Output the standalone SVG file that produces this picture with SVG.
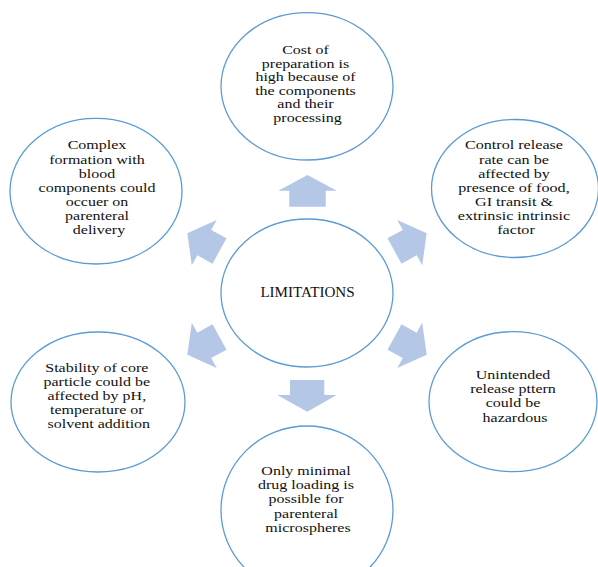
<svg xmlns="http://www.w3.org/2000/svg" xmlns:xlink="http://www.w3.org/1999/xlink" width="598" height="567" viewBox="0 0 598 567">
  <style>
    .node { fill: #ffffff; stroke: #5b9bd5; stroke-width: 1.3; }
    .arrow { fill: #b4c7e7; stroke: none; }
    .t { font-family: "Liberation Serif", "Times New Roman", serif; font-size: 12.7px; fill: #111111; text-anchor: middle; }
    .tight { font-size: 12.2px; }
  </style>
  <defs>
    <!-- block arrow pointing to the upper-left; the other diagonals are mirrors of it -->
    <path id="diag" d="M187.3,233.3 L216.7,220 L211.2,229.9 L226.5,238.3 L212.5,263.7 L197.3,255.3 L191.8,265.2 Z"/>
  </defs>
  <rect width="598" height="567" fill="#ffffff"/>

  <g id="connectors">
    <path class="arrow" d="M307.5,175 L336.7,190.7 L325.7,190.7 L325.7,206.7 L289.3,206.7 L289.3,190.7 L278.3,190.7 Z"/>
    <path class="arrow" d="M290,380 L324.3,380 L324.3,395 L336.7,395 L307.3,411.7 L277.3,395 L290,395 Z"/>
    <use class="arrow" xlink:href="#diag"/>
    <use class="arrow" xlink:href="#diag" transform="matrix(-1,0,0,1,614,0)"/>
    <use class="arrow" xlink:href="#diag" transform="matrix(1,0,0,-1,0,588)"/>
    <use class="arrow" xlink:href="#diag" transform="matrix(-1,0,0,-1,614,588)"/>
  </g>

  <g id="limitations">
    <ellipse class="node" cx="307" cy="293" rx="86" ry="74"/>
    <text class="t" transform="translate(307.5,0) scale(1.04,1)" style="font-size:14.5px"><tspan x="0" y="297">LIMITATIONS</tspan></text>
  </g>

  <g id="cost">
    <ellipse class="node" cx="307" cy="86.3" rx="86" ry="73.7"/>
    <text class="t tight" transform="translate(307.5,0) scale(1.31,1)">
      <tspan x="0" y="54.3">Cost of</tspan>
      <tspan x="0" y="67.8">preparation is</tspan>
      <tspan x="0" y="81.3">high because of</tspan>
      <tspan x="0" y="94.8">the components</tspan>
      <tspan x="0" y="108.3">and their</tspan>
      <tspan x="0" y="121.8">processing</tspan>
    </text>
  </g>

  <g id="control-release">
    <ellipse class="node" cx="515" cy="188.5" rx="83.5" ry="69"/>
    <text class="t" transform="translate(516,0) scale(1.27,1)">
      <tspan x="0" y="149.5">Control release</tspan>
      <tspan x="0" y="163.6">rate can be</tspan>
      <tspan x="0" y="177.7">affected by</tspan>
      <tspan x="0" y="191.8">presence of food,</tspan>
      <tspan x="0" y="205.9">GI transit &amp;</tspan>
      <tspan x="0" y="220">extrinsic intrinsic</tspan>
      <tspan x="0" y="234.1">factor</tspan>
    </text>
  </g>

  <g id="complex-formation">
    <ellipse class="node" cx="96" cy="191.2" rx="86" ry="72.8"/>
    <text class="t" transform="translate(99,0) scale(1.26,1)">
      <tspan x="0" y="149.5">Complex</tspan>
      <tspan x="0" y="163.6">formation with</tspan>
      <tspan x="0" y="177.7">blood</tspan>
      <tspan x="0" y="191.8">components could</tspan>
      <tspan x="0" y="205.9">occuer on</tspan>
      <tspan x="0" y="220">parenteral</tspan>
      <tspan x="0" y="234.1">delivery</tspan>
    </text>
  </g>

  <g id="stability">
    <ellipse class="node" cx="98" cy="402" rx="87" ry="70"/>
    <text class="t" transform="translate(98.8,0) scale(1.26,1)">
      <tspan x="0" y="371.7">Stability of core</tspan>
      <tspan x="0" y="385.85">particle could be</tspan>
      <tspan x="0" y="400">affected by pH,</tspan>
      <tspan x="0" y="414.15">temperature or</tspan>
      <tspan x="0" y="428.3">solvent addition</tspan>
    </text>
  </g>

  <g id="unintended-release">
    <ellipse class="node" cx="513" cy="401.7" rx="84" ry="70"/>
    <text class="t" transform="translate(515,0) scale(1.26,1)">
      <tspan x="0" y="379">Unintended</tspan>
      <tspan x="0" y="393.2">release pttern</tspan>
      <tspan x="0" y="407.4">could be</tspan>
      <tspan x="0" y="421.6">hazardous</tspan>
    </text>
  </g>

  <g id="drug-loading">
    <ellipse class="node" cx="307" cy="510" rx="86" ry="84"/>
    <text class="t" transform="translate(308,0) scale(1.26,1)">
      <tspan x="0" y="475">Only minimal</tspan>
      <tspan x="0" y="489.2">drug loading is</tspan>
      <tspan x="0" y="503.4">possible for</tspan>
      <tspan x="0" y="517.6">parenteral</tspan>
      <tspan x="0" y="531.8">microspheres</tspan>
    </text>
  </g>
</svg>
